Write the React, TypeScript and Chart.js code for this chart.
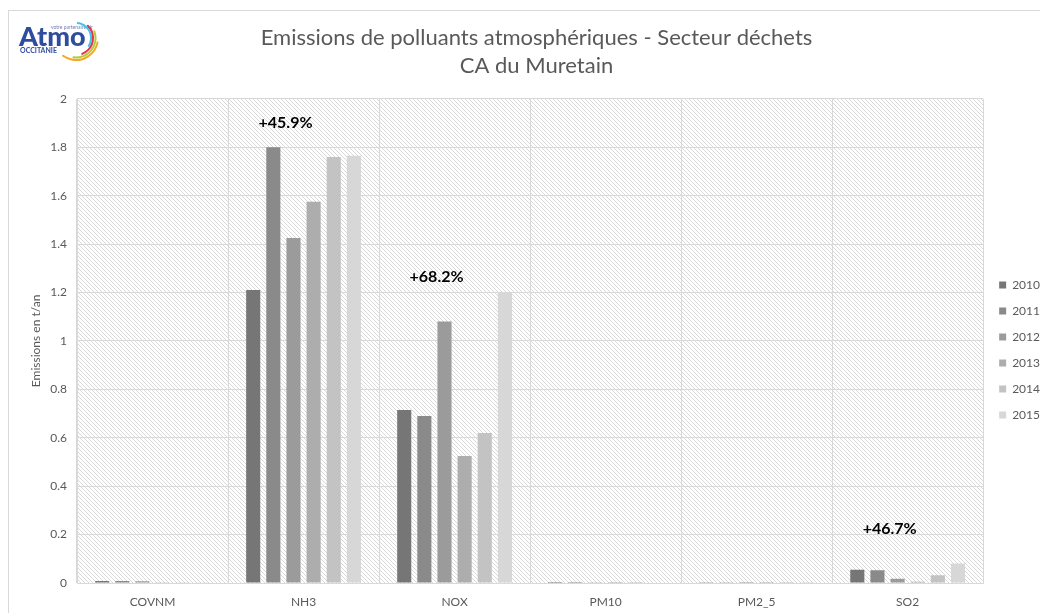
import React, { useEffect, useRef } from "react";
import { Chart, registerables } from "chart.js";

Chart.register(...registerables);

const categories = ["COVNM", "NH3", "NOX", "PM10", "PM2_5", "SO2"];
const years = ["2010", "2011", "2012", "2013", "2014", "2015"];
const v2010 = [0.008, 1.21, 0.715, 0.004, 0.003, 0.055];
const v2011 = [0.008, 1.8, 0.69, 0.004, 0.003, 0.053];
const v2012 = [0.007, 1.425, 1.08, 0.001, 0.0005, 0.018];
const v2013 = [0.001, 1.575, 0.525, 0.0005, 0.0003, 0.005];
const v2014 = [0.001, 1.76, 0.62, 0.0005, 0.0003, 0.032];
const v2015 = [0.003, 1.765, 1.2, 0.002, 0.0005, 0.081];
const seriesColors = ["#767676", "#8a8a8a", "#9b9b9b", "#adadad", "#c3c3c3", "#d7d7d7"];
const annotationTexts = ["", "+45.9%", "+68.2%", "", "", "+46.7%"];
const annotationY = [0, 1.9, 1.265, 0, 0, 0.222];
const titleLines = ["Emissions de polluants atmosphériques - Secteur déchets", "CA du Muretain"];

const FONT = "Lato, 'Open Sans', sans-serif";

export default function App() {
  const ref = useRef<HTMLCanvasElement>(null);
  useEffect(() => {
    document.documentElement.style.overflow = "hidden";
    const canvas = ref.current!;
    const tile = document.createElement("canvas");
    tile.width = 4;
    tile.height = 4;
    const tc = tile.getContext("2d")!;
    tc.fillStyle = "#ffffff";
    tc.fillRect(0, 0, 4, 4);
    tc.strokeStyle = "#d9d9d9";
    tc.lineWidth = 1;
    tc.beginPath();
    tc.moveTo(-1, -1);
    tc.lineTo(5, 5);
    tc.moveTo(-1, 3);
    tc.lineTo(1, 5);
    tc.moveTo(3, -1);
    tc.lineTo(5, 1);
    tc.stroke();

    const bgPlugin = {
      id: "hatchBg",
      beforeDraw(chart: any) {
        const { ctx, chartArea } = chart;
        const pat = ctx.createPattern(tile, "repeat");
        ctx.save();
        ctx.fillStyle = pat;
        ctx.fillRect(chartArea.left, chartArea.top, chartArea.right - chartArea.left, chartArea.bottom - chartArea.top);
        ctx.restore();
      },
    };

    const legendShift = {
      id: "legendShift",
      afterLayout(chart: any) {
        const lg = chart.legend;
        if (!lg) return;
        lg.left += 2;
        lg.right += 20;
        lg.top += 34;
        lg.bottom += 34;
      },
    };

    const annotPlugin = {
      id: "annots",
      afterDatasetsDraw(chart: any) {
        const { ctx, scales } = chart;
        ctx.save();
        ctx.font = "bold 16px " + FONT;
        ctx.fillStyle = "#000000";
        ctx.textAlign = "center";
        ctx.textBaseline = "middle";
        annotationTexts.forEach((t, i) => {
          if (!t) return;
          const x = scales.x.getPixelForValue(i) - 18;
          const y = scales.y.getPixelForValue(annotationY[i]);
          ctx.fillText(t, x, y);
        });
        ctx.restore();
      },
    };

    const logoPlugin = {
      id: "logo",
      afterDraw(chart: any) {
        const ctx = chart.ctx;
        ctx.save();
        ctx.fillStyle = "#2f4d9e";
        ctx.textAlign = "left";
        ctx.textBaseline = "alphabetic";
        ctx.font = "900 27px " + FONT;
        ctx.fillText("Atmo", 10, 35);
        ctx.font = "bold 7px " + FONT;
        ctx.fillText("OCCITANIE", 11, 42);
        ctx.fillStyle = "#6d7fb8";
        ctx.font = "5px " + FONT;
        ctx.fillText("votre partenaire air", 42, 18);
        const cx = 67, cy = 27;
        const arcs = [
          { r: 15, a0: -1.45, a1: 0.55, c: "#3dc3ee" },
          { r: 17, a0: -0.8, a1: 1.2, c: "#e5304f" },
          { r: 19.5, a0: -0.35, a1: 1.7, c: "#b2cd38" },
          { r: 22, a0: 0.2, a1: 2.2, c: "#f7a823" },
        ];
        ctx.lineWidth = 2;
        ctx.lineCap = "round";
        arcs.forEach((a) => {
          ctx.strokeStyle = a.c;
          ctx.beginPath();
          ctx.arc(cx, cy, a.r, a.a0, a.a1);
          ctx.stroke();
        });
        ctx.restore();
      },
    };

    const seriesValues = [v2010, v2011, v2012, v2013, v2014, v2015];
    const chart = new Chart(canvas, {
      type: "bar",
      data: {
        labels: categories,
        datasets: years.map((y, i) => ({
          label: y,
          data: seriesValues[i],
          backgroundColor: seriesColors[i],
          borderWidth: 0,
          categoryPercentage: 0.8,
          barPercentage: 0.7,
        })),
      },
      options: {
        responsive: false,
        animation: false,
        layout: { padding: { left: 16, right: 0, top: 0, bottom: 0 } },
        plugins: {
          title: {
            display: true,
            text: titleLines,
            color: "#595959",
            font: { family: FONT, size: 22, weight: "normal", lineHeight: 1.27 },
            padding: { top: 13, bottom: 19 },
          },
          legend: {
            position: "right",
            labels: {
              boxWidth: 7,
              boxHeight: 7,
              padding: 14,
              color: "#595959",
              font: { family: FONT, size: 12 },
            },
          },
          tooltip: { enabled: false },
        },
        scales: {
          x: {
            grid: { color: "#d9d9d9", drawTicks: false, offset: true },
            border: { color: "#d9d9d9" },
            ticks: { color: "#595959", font: { family: FONT, size: 12 }, padding: 12 },
            afterFit(scale: any) {
              scale.height = 38;
            },
          },
          y: {
            min: 0,
            max: 2,
            ticks: {
              stepSize: 0.2,
              color: "#595959",
              font: { family: FONT, size: 12 },
              padding: 10,
              callback: (v: any) => String(Number(Number(v).toFixed(1))),
            },
            grid: { color: "#d9d9d9", drawTicks: false },
            border: { color: "#d9d9d9" },
            title: {
              display: true,
              text: "Emissions en t/an",
              color: "#595959",
              font: { family: FONT, size: 12 },
            },
            afterFit(scale: any) {
              scale.width = 52;
            },
          },
        },
      },
      plugins: [bgPlugin, legendShift, annotPlugin, logoPlugin],
    });
    return () => chart.destroy();
  }, []);

  return (
    <div
      style={{
        width: 1031,
        height: 610,
        borderTop: "1px solid #d9d9d9",
        borderLeft: "1px solid #d9d9d9",
        borderBottom: "1px solid #d9d9d9",
        marginTop: 2,
        background: "#ffffff",
        overflow: "hidden",
      }}
    >
      <canvas ref={ref} width={1039} height={610} style={{ display: "block" }} />
    </div>
  );
}
